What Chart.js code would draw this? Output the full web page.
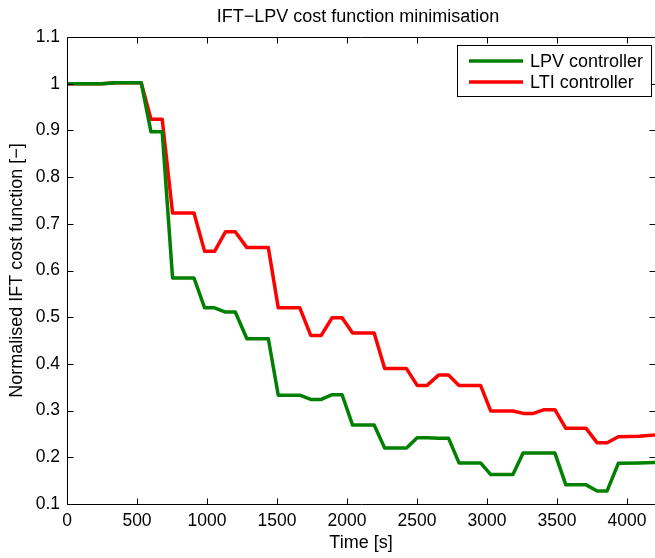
<!DOCTYPE html>
<html>
<head>
<meta charset="utf-8">
<script src="https://cdn.jsdelivr.net/npm/chart.js@4/dist/chart.umd.min.js"></script>
<style>
  html, body { margin: 0; padding: 0; background: #fff; }
  canvas { display: block; }
</style>
</head>
<body>
<canvas id="chart" width="655" height="558"></canvas>
<script>
// Iteration times [s] (shared by both controllers)
const timeSec = [0, 250, 350, 530, 600, 680, 754, 907, 983, 1054, 1132, 1202, 1285, 1438,
  1509, 1663, 1741, 1816, 1894, 1965, 2040, 2194, 2269, 2425, 2501, 2572, 2654, 2725,
  2800, 2954, 3027, 3185, 3258, 3332, 3409, 3485, 3563, 3708, 3787, 3858, 3938, 4085, 4200];

// Normalised IFT cost, LPV controller
const costLPV = [1.0, 1.0, 1.002, 1.002, 0.897, 0.897, 0.584, 0.584, 0.520, 0.520, 0.511, 0.511,
  0.454, 0.454, 0.333, 0.333, 0.324, 0.324, 0.334, 0.334, 0.269, 0.269, 0.220, 0.220,
  0.242, 0.242, 0.241, 0.241, 0.188, 0.188, 0.163, 0.163, 0.209, 0.209, 0.209, 0.209,
  0.141, 0.141, 0.128, 0.128, 0.187, 0.188, 0.189];

// Normalised IFT cost, LTI controller
const costLTI = [1.0, 1.0, 1.002, 1.002, 0.924, 0.924, 0.723, 0.723, 0.641, 0.641, 0.683, 0.683,
  0.649, 0.649, 0.520, 0.520, 0.461, 0.461, 0.499, 0.499, 0.466, 0.466, 0.390, 0.390,
  0.354, 0.354, 0.376, 0.376, 0.354, 0.354, 0.299, 0.299, 0.294, 0.294, 0.302, 0.302,
  0.262, 0.262, 0.231, 0.231, 0.244, 0.245, 0.248];

// Axis ticks
const xTickValues = [0, 500, 1000, 1500, 2000, 2500, 3000, 3500, 4000];
const yTickValues = [0.1, 0.2, 0.3, 0.4, 0.5, 0.6, 0.7, 0.8, 0.9, 1.0, 1.1];
const yTickLabels = ['0.1', '0.2', '0.3', '0.4', '0.5', '0.6', '0.7', '0.8', '0.9', '1', '1.1'];

const seriesNames = ['LPV controller', 'LTI controller'];
const seriesColors = ['#008000', '#ff0000'];
const titleText = 'IFT\u2212LPV cost function minimisation';

const FONT = "'Liberation Sans', Arial, Helvetica, sans-serif";

function toPoints(xs, ys) {
  return xs.map((x, i) => ({ x: x, y: ys[i] }));
}

// Box around the axes, inward tick marks, title and inset legend
const matlabAxes = {
  id: 'matlabAxes',
  afterDraw(chart) {
    const ctx = chart.ctx;
    const a = chart.chartArea;
    const xs = chart.scales.x, ys = chart.scales.y;
    const L = Math.round(a.left) + 0.5, R = Math.round(a.right) + 0.5;
    const T = Math.round(a.top) + 0.5, B = Math.round(a.bottom) + 0.5;
    const tickLen = 6;
    ctx.save();
    ctx.strokeStyle = '#000';
    ctx.lineWidth = 1;
    ctx.beginPath();
    ctx.rect(L, T, R - L, B - T);
    xTickValues.forEach(v => {
      const px = Math.round(xs.getPixelForValue(v)) + 0.5;
      ctx.moveTo(px, B); ctx.lineTo(px, B - tickLen);
      ctx.moveTo(px, T); ctx.lineTo(px, T + tickLen);
    });
    yTickValues.forEach(v => {
      const py = Math.round(ys.getPixelForValue(v)) + 0.5;
      ctx.moveTo(L, py); ctx.lineTo(L + tickLen, py);
      ctx.moveTo(R, py); ctx.lineTo(R - tickLen, py);
    });
    ctx.stroke();

    // title
    ctx.fillStyle = '#000';
    ctx.font = '18px ' + FONT;
    ctx.textAlign = 'center';
    ctx.textBaseline = 'alphabetic';
    ctx.fillText(titleText, (a.left + a.right) / 2 - 3, 22);

    // legend
    const bx = 457.5, by = 45.5, bw = 194, bh = 51;
    ctx.fillStyle = '#fff';
    ctx.fillRect(bx, by, bw, bh);
    ctx.strokeStyle = '#000';
    ctx.lineWidth = 1;
    ctx.strokeRect(bx, by, bw, bh);
    ctx.font = '18px ' + FONT;
    ctx.textAlign = 'left';
    ctx.textBaseline = 'middle';
    const rows = [61, 82];
    chart.data.datasets.forEach((ds, i) => {
      ctx.strokeStyle = ds.borderColor;
      ctx.lineWidth = 3.5;
      ctx.beginPath();
      ctx.moveTo(469, rows[i]);
      ctx.lineTo(523, rows[i]);
      ctx.stroke();
      ctx.fillStyle = '#000';
      ctx.fillText(ds.label, 530, rows[i] + 1);
    });
    ctx.restore();
  }
};

new Chart(document.getElementById('chart'), {
  type: 'line',
  data: {
    datasets: [
      { label: seriesNames[0], data: toPoints(timeSec, costLPV), borderColor: seriesColors[0],
        backgroundColor: seriesColors[0], borderWidth: 3.5, pointRadius: 0, tension: 0,
        borderJoinStyle: 'round', fill: false },
      { label: seriesNames[1], data: toPoints(timeSec, costLTI), borderColor: seriesColors[1],
        backgroundColor: seriesColors[1], borderWidth: 3.5, pointRadius: 0, tension: 0,
        borderJoinStyle: 'round', fill: false }
    ]
  },
  options: {
    responsive: false,
    animation: false,
    devicePixelRatio: 1,
    layout: { padding: { left: 0, right: -5, top: 37, bottom: 0 } },
    plugins: {
      legend: { display: false },
      title: { display: false },
      tooltip: { enabled: false }
    },
    scales: {
      x: {
        type: 'linear',
        min: 0,
        max: 4200,
        grid: { display: false, drawTicks: false },
        border: { display: false },
        afterBuildTicks: s => { s.ticks = xTickValues.map(v => ({ value: v })); },
        afterFit: s => { s.height = 54; s.paddingLeft = 0; s.paddingRight = 0; },
        ticks: {
          color: '#000', font: { family: FONT, size: 17.5 }, padding: 7,
          maxRotation: 0, autoSkip: false, callback: v => String(v)
        },
        title: {
          display: true, text: 'Time [s]', color: '#000',
          font: { family: FONT, size: 18 }, padding: { top: 0, bottom: 4 }
        }
      },
      y: {
        type: 'linear',
        min: 0.1,
        max: 1.1,
        grid: { display: false, drawTicks: false },
        border: { display: false },
        afterBuildTicks: s => { s.ticks = yTickValues.map(v => ({ value: v })); },
        afterFit: s => { s.width = 67; s.paddingTop = 0; s.paddingBottom = 0; },
        ticks: {
          color: '#000', font: { family: FONT, size: 17.5 }, padding: 7,
          autoSkip: false,
          callback: v => {
            const i = yTickValues.findIndex(t => Math.abs(t - v) < 1e-6);
            return i >= 0 ? yTickLabels[i] : '';
          }
        },
        title: {
          display: true, text: 'Normalised IFT cost function [\u2212]', color: '#000',
          font: { family: FONT, size: 18 }, padding: { top: 6, bottom: 0 }
        }
      }
    }
  },
  plugins: [matlabAxes]
});
</script>
</body>
</html>
